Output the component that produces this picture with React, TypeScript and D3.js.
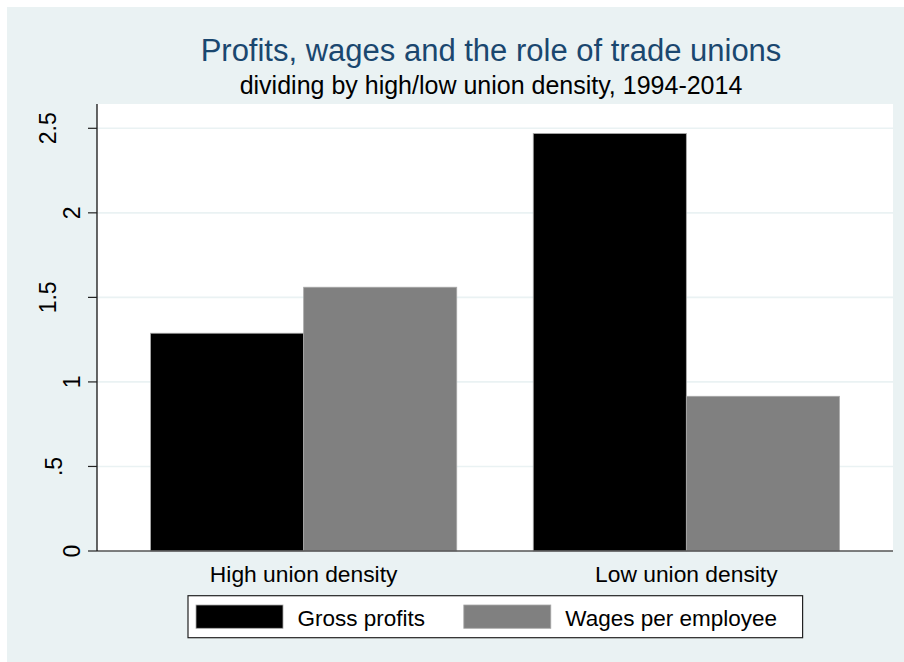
import React from "react";
import { scaleBand, scaleLinear } from "d3";

const categories = ["High union density", "Low union density"];
const seriesNames = ["Gross profits", "Wages per employee"];
const grossProfits = [1.288, 2.469];
const wagesPerEmployee = [1.56, 0.915];
const tickValues = [0, 0.5, 1, 1.5, 2, 2.5];
const tickLabels = ["0", ".5", "1", "1.5", "2", "2.5"];

const W = 904;
const H = 662;
const FONT = "'Liberation Sans', Arial, sans-serif";
const colors = ["#000000", "#808080"];

export default function App() {
  // plot region, as in the stata export
  const plot = { left: 97, right: 893, top: 104, bottom: 551 };

  const xScale = scaleBand()
    .domain(categories)
    .range([plot.left, plot.right])
    .paddingInner(0.2)
    .paddingOuter(0.14);
  const sScale = scaleBand()
    .domain(seriesNames)
    .range([0, xScale.bandwidth()])
    .padding(0);
  const yScale = scaleLinear().domain([0, 2.5]).range([plot.bottom, 128.3]);

  const values = [grossProfits, wagesPerEmployee];

  // rotated tick labels sit a bit left when they are longer (export quirk)
  const labelShift = (l: string) => (l.length === 1 ? 0 : l.length === 2 ? 18 : 24.5);

  // legend layout
  const leg = { x: 188, y: 595.7, w: 614.6, h: 42 };
  const keyX = [196, 463.8];
  const keyW = 87;

  return (
    <svg
      width={W}
      height={H}
      style={{ position: "absolute", left: 0, top: 0 }}
      fontFamily={FONT}
    >
      <rect x={0} y={0} width={W} height={H} fill="#ffffff" />
      <rect x={7} y={7} width={W - 7} height={H - 7} fill="#eaf2f3" />

      <text x={491} y={60.7} textAnchor="middle" fontSize={31} fill="#1a476f">
        Profits, wages and the role of trade unions
      </text>
      <text x={491} y={94} textAnchor="middle" fontSize={25} fill="#000">
        dividing by high/low union density, 1994-2014
      </text>

      <rect
        x={plot.left}
        y={plot.top}
        width={plot.right - plot.left}
        height={plot.bottom - plot.top}
        fill="#ffffff"
      />

      {tickValues
        .filter((v) => v > 0)
        .map((v) => (
          <line
            key={"g" + v}
            x1={plot.left}
            x2={plot.right}
            y1={yScale(v)}
            y2={yScale(v)}
            stroke="#eaf2f3"
            strokeWidth={1.6}
          />
        ))}

      {categories.map((c, i) =>
        seriesNames.map((s, j) => {
          const v = values[j][i];
          const x = (xScale(c) as number) + (sScale(s) as number);
          return (
            <rect
              key={c + s}
              x={x}
              y={yScale(v)}
              width={sScale.bandwidth()}
              height={yScale(0) - yScale(v)}
              fill={colors[j]}
              stroke="#a8a8a8"
              strokeWidth={0.8}
            />
          );
        })
      )}

      {/* x axis line */}
      <line
        x1={plot.left}
        x2={plot.right}
        y1={plot.bottom}
        y2={plot.bottom}
        stroke="#555"
        strokeWidth={1.4}
      />
      {/* y axis */}
      <line
        x1={plot.left}
        x2={plot.left}
        y1={plot.top}
        y2={plot.bottom}
        stroke="#000"
        strokeWidth={1.2}
      />
      {tickValues.map((v, i) => (
        <g key={"t" + v}>
          <line
            x1={plot.left - 9}
            x2={plot.left}
            y1={yScale(v)}
            y2={yScale(v)}
            stroke="#222"
            strokeWidth={1.2}
          />
          <text
            transform={`translate(${80 - labelShift(tickLabels[i])},${yScale(v)}) rotate(-90)`}
            textAnchor="middle"
            fontSize={23}
            fill="#000"
          >
            {tickLabels[i]}
          </text>
        </g>
      ))}

      {categories.map((c) => (
        <text
          key={c}
          x={(xScale(c) as number) + xScale.bandwidth() / 2}
          y={581.7}
          textAnchor="middle"
          fontSize={22.8}
          fill="#000"
        >
          {c}
        </text>
      ))}

      {/* legend */}
      <rect
        x={leg.x}
        y={leg.y}
        width={leg.w}
        height={leg.h}
        fill="#ffffff"
        stroke="#222"
        strokeWidth={1.2}
      />
      {seriesNames.map((s, j) => (
        <g key={"l" + s}>
          <rect
            x={keyX[j]}
            y={605}
            width={keyW}
            height={23.3}
            fill={colors[j]}
            stroke="#a8a8a8"
            strokeWidth={0.8}
          />
          <text x={keyX[j] + keyW + 14.5} y={625.5} fontSize={22.5} fill="#000">
            {s}
          </text>
        </g>
      ))}
    </svg>
  );
}
